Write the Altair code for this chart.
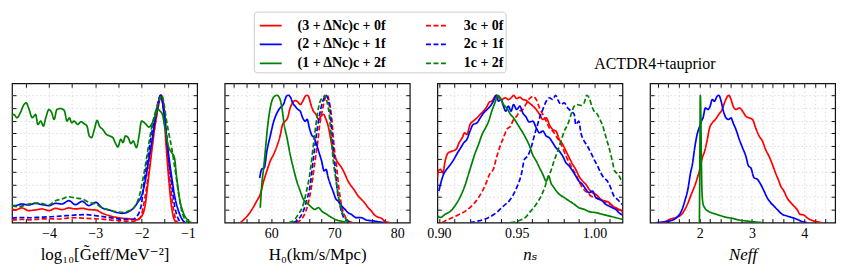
import json
import altair as alt
import pandas as pd

# ---------------- series definitions ----------------
NAMES = ["(3 + ΔNc)c + 0f", "3c + 0f",
         "(2 + ΔNc)c + 1f", "2c + 1f",
         "(1 + ΔNc)c + 2f", "1c + 2f"]
COLORS = ["#ff0000", "#ff0000", "#0000ff", "#0000ff", "#008000", "#008000"]
DASHES = [[1, 0], [5, 2.5], [1, 0], [5, 2.5], [1, 0], [5, 2.5]]
# legend is filled column by column: solid lines first, dashed second
LEGEND_ORDER = [0, 2, 4, 1, 3, 5]

# ---------------- panel 1: log10 Geff ----------------
geff_red_solid = [(-4.80,0.107),(-4.73,0.099),(-4.59,0.115),(-4.44,0.094),(-4.30,0.099),(-4.15,0.107),(-4.00,0.094),(-3.86,0.112),(-3.72,0.102),(-3.57,0.115),(-3.43,0.107),(-3.28,0.112),(-3.135,0.102),(-2.99,0.099),(-2.845,0.073),(-2.70,0.055),(-2.55,0.042),(-2.41,0.034),(-2.26,0.029),(-2.12,0.021),(-2.02,0.04),(-1.93,0.12),(-1.856,0.33),(-1.78,0.56),(-1.71,0.76),(-1.64,0.91),(-1.58,1.0),(-1.52,0.86),(-1.46,0.56),(-1.41,0.33),(-1.35,0.12),(-1.30,0.03),(-1.24,0.0)]
geff_red_dash = [(-4.8,0.02),(-4.6,0.025),(-4.4,0.022),(-4.2,0.028),(-4.0,0.03),(-3.8,0.028),(-3.6,0.035),(-3.4,0.038),(-3.2,0.033),(-3.0,0.03),(-2.8,0.025),(-2.6,0.018),(-2.4,0.012),(-2.2,0.01),(-2.08,0.02),(-2.0,0.06),(-1.965,0.12),(-1.89,0.28),(-1.82,0.48),(-1.75,0.67),(-1.675,0.84),(-1.62,0.95),(-1.57,1.0),(-1.52,0.92),(-1.46,0.64),(-1.40,0.38),(-1.33,0.15),(-1.28,0.05),(-1.22,0.0)]
geff_blue_solid = [(-4.80,0.135),(-4.73,0.133),(-4.59,0.146),(-4.44,0.138),(-4.30,0.151),(-4.15,0.141),(-4.00,0.133),(-3.86,0.151),(-3.72,0.146),(-3.57,0.172),(-3.43,0.141),(-3.28,0.167),(-3.14,0.133),(-2.99,0.159),(-2.85,0.115),(-2.70,0.099),(-2.55,0.081),(-2.41,0.073),(-2.26,0.089),(-2.16,0.12),(-2.08,0.16),(-2.0,0.21),(-1.93,0.31),(-1.856,0.47),(-1.78,0.63),(-1.71,0.80),(-1.65,0.91),(-1.59,1.0),(-1.54,0.93),(-1.495,0.80),(-1.42,0.55),(-1.35,0.36),(-1.28,0.20),(-1.20,0.09),(-1.13,0.03),(-1.065,0.0)]
geff_blue_dash = [(-4.8,0.035),(-4.6,0.04),(-4.4,0.038),(-4.2,0.042),(-4.0,0.045),(-3.8,0.05),(-3.6,0.055),(-3.4,0.06),(-3.2,0.062),(-3.0,0.055),(-2.8,0.045),(-2.6,0.035),(-2.4,0.025),(-2.2,0.025),(-2.08,0.06),(-2.0,0.15),(-1.94,0.33),(-1.87,0.5),(-1.80,0.66),(-1.73,0.80),(-1.66,0.92),(-1.59,1.0),(-1.54,0.94),(-1.495,0.82),(-1.42,0.52),(-1.35,0.30),(-1.28,0.12),(-1.22,0.04),(-1.15,0.0)]
geff_green_solid = [(-4.81,0.836),(-4.76,0.849),(-4.69,0.823),(-4.62,0.862),(-4.54,0.927),(-4.49,0.94),(-4.44,0.90),(-4.36,0.823),(-4.29,0.849),(-4.24,0.77),(-4.18,0.797),(-4.12,0.758),(-4.07,0.823),(-4.0,0.888),(-3.94,0.862),(-3.89,0.81),(-3.83,0.888),(-3.75,0.896),(-3.67,0.88),(-3.61,0.797),(-3.56,0.823),(-3.51,0.784),(-3.455,0.797),(-3.38,0.77),(-3.31,0.792),(-3.24,0.776),(-3.18,0.758),(-3.13,0.68),(-3.08,0.667),(-3.02,0.732),(-2.96,0.802),(-2.91,0.758),(-2.84,0.732),(-2.76,0.693),(-2.69,0.68),(-2.62,0.667),(-2.57,0.628),(-2.51,0.594),(-2.45,0.654),(-2.40,0.628),(-2.35,0.68),(-2.29,0.667),(-2.23,0.62),(-2.18,0.641),(-2.11,0.589),(-2.06,0.667),(-2.0,0.797),(-1.915,0.776),(-1.84,0.75),(-1.785,0.77),(-1.71,0.836),(-1.65,0.89),(-1.60,0.875),(-1.55,0.85),(-1.495,0.745),(-1.42,0.60),(-1.35,0.55),(-1.29,0.51),(-1.24,0.35),(-1.17,0.17),(-1.10,0.08),(-0.99,0.015),(-0.92,0.0)]
geff_green_dash = [(-4.8,0.133),(-4.66,0.125),(-4.44,0.146),(-4.22,0.154),(-4.0,0.138),(-3.86,0.172),(-3.72,0.185),(-3.57,0.203),(-3.43,0.193),(-3.28,0.185),(-3.135,0.159),(-2.99,0.146),(-2.845,0.115),(-2.70,0.099),(-2.55,0.086),(-2.41,0.081),(-2.26,0.094),(-2.155,0.12),(-2.04,0.22),(-1.965,0.35),(-1.89,0.51),(-1.82,0.67),(-1.75,0.80),(-1.675,0.90),(-1.60,0.98),(-1.565,1.0),(-1.51,0.92),(-1.46,0.80),(-1.40,0.68),(-1.35,0.59),(-1.29,0.45),(-1.24,0.33),(-1.18,0.18),(-1.115,0.07),(-1.05,0.02),(-0.99,0.0)]

# ---------------- panel 2: H0 ----------------
h0_red_solid = [(55.1,0.0),(55.4,0.013),(56.2,0.052),(56.95,0.104),(57.7,0.17),(58.26,0.222),(58.8,0.326),(59.3,0.405),(59.84,0.483),(60.37,0.535),(60.9,0.60),(61.4,0.68),(61.8,0.77),(62.2,0.796),(62.6,0.822),(63.0,0.90),(63.4,0.94),(63.8,0.958),(64.2,0.948),(64.6,0.927),(65.0,0.953),(65.4,0.992),(65.7,1.0),(66.0,0.98),(66.3,0.927),(66.7,0.875),(67.1,0.85),(67.5,0.81),(67.9,0.835),(68.3,0.85),(68.6,0.822),(69.05,0.757),(69.4,0.666),(69.8,0.56),(70.3,0.496),(70.6,0.47),(71.2,0.43),(71.7,0.38),(72.2,0.326),(72.7,0.287),(73.3,0.248),(73.8,0.209),(74.3,0.183),(74.8,0.157),(75.4,0.117),(75.9,0.091),(76.4,0.06),(76.9,0.044),(77.5,0.034),(78.0,0.013),(78.8,0.0)]
h0_red_dash = [(64.0,0.0),(64.6,0.018),(65.4,0.078),(65.9,0.157),(66.4,0.287),(66.95,0.483),(67.4,0.64),(67.7,0.77),(68.2,0.90),(68.5,0.966),(68.9,1.0),(69.2,0.953),(69.6,0.822),(69.9,0.64),(70.4,0.43),(70.8,0.248),(71.2,0.13),(71.7,0.052),(72.4,0.008),(73.0,0.0)]
h0_blue_solid = [(58.16,0.35),(58.5,0.42),(58.9,0.43),(59.3,0.56),(59.84,0.68),(60.37,0.79),(60.9,0.86),(61.4,0.90),(61.95,0.93),(62.4,0.99),(62.7,1.0),(63.1,0.98),(63.4,0.94),(63.8,0.914),(64.2,0.89),(64.6,0.875),(65.0,0.822),(65.4,0.796),(65.7,0.81),(66.05,0.744),(66.4,0.69),(66.8,0.666),(67.2,0.614),(67.6,0.548),(68.0,0.483),(68.4,0.405),(68.7,0.418),(69.05,0.352),(69.4,0.30),(69.8,0.248),(70.3,0.183),(70.6,0.17),(71.2,0.13),(71.7,0.104),(72.2,0.078),(72.7,0.065),(73.5,0.039),(74.3,0.039),(75.1,0.02),(76.2,0.013),(77.2,0.005),(78.0,0.0)]
h0_blue_dash = [(63.5,0.0),(64.3,0.026),(65.1,0.091),(65.6,0.17),(66.2,0.30),(66.7,0.51),(67.1,0.666),(67.5,0.796),(67.9,0.90),(68.4,0.98),(68.7,1.0),(69.05,0.966),(69.4,0.85),(69.7,0.666),(70.1,0.457),(70.5,0.248),(71.0,0.117),(71.5,0.039),(72.2,0.008),(72.8,0.0)]
h0_green_solid = [(58.26,0.117),(58.5,0.30),(58.8,0.43),(59.05,0.56),(59.4,0.744),(59.84,0.90),(60.37,0.984),(60.9,1.0),(61.3,0.98),(61.7,0.90),(62.05,0.77),(62.5,0.666),(63.0,0.535),(63.5,0.43),(64.05,0.326),(64.6,0.248),(65.1,0.183),(65.6,0.157),(66.2,0.13),(66.9,0.104),(67.5,0.117),(68.0,0.091),(68.8,0.065),(69.6,0.039),(70.4,0.02),(71.4,0.008),(72.2,0.0)]
h0_green_dash = [(62.8,0.0),(63.5,0.013),(64.3,0.065),(65.1,0.144),(65.6,0.248),(66.2,0.405),(66.7,0.614),(67.1,0.77),(67.5,0.90),(67.9,0.966),(68.3,0.984),(68.5,1.0),(68.9,0.94),(69.2,0.85),(69.5,0.69),(69.8,0.51),(70.3,0.326),(70.7,0.196),(71.2,0.091),(71.7,0.039),(72.2,0.008),(72.6,0.0)]

# ---------------- panel 3: n_s ----------------
ns_red_solid = [(0.899,0.35),(0.8996,0.405),(0.901,0.418),(0.9026,0.39),(0.904,0.483),(0.906,0.548),(0.9085,0.561),(0.911,0.574),(0.913,0.627),(0.915,0.666),(0.9166,0.705),(0.918,0.69),(0.920,0.77),(0.922,0.796),(0.9245,0.822),(0.9266,0.85),(0.9287,0.875),(0.931,0.914),(0.9326,0.948),(0.934,0.953),(0.9357,0.984),(0.937,1.0),(0.9387,0.98),(0.9404,0.966),(0.9426,0.98),(0.9447,0.966),(0.9468,0.984),(0.948,1.0),(0.95,0.974),(0.952,0.984),(0.954,0.966),(0.956,0.96),(0.958,0.94),(0.9604,0.915),(0.9626,0.888),(0.9647,0.85),(0.9668,0.81),(0.969,0.822),(0.971,0.77),(0.9732,0.73),(0.9753,0.718),(0.9774,0.653),(0.9796,0.614),(0.9817,0.561),(0.9838,0.509),(0.986,0.457),(0.988,0.418),(0.990,0.366),(0.9923,0.326),(0.9945,0.30),(0.9966,0.261),(0.9987,0.235),(1.0009,0.222),(1.003,0.196),(1.005,0.175),(1.0072,0.17),(1.0094,0.157),(1.0115,0.13),(1.0136,0.117),(1.0157,0.104),(1.018,0.09)]
ns_red_dash = [(0.902,0.0),(0.904,0.013),(0.911,0.052),(0.917,0.09),(0.921,0.13),(0.9255,0.196),(0.93,0.30),(0.933,0.39),(0.935,0.418),(0.937,0.509),(0.939,0.587),(0.9415,0.666),(0.9436,0.73),(0.946,0.757),(0.948,0.81),(0.95,0.835),(0.952,0.875),(0.954,0.888),(0.956,0.93),(0.958,0.97),(0.9604,0.99),(0.9626,0.966),(0.9647,0.90),(0.9668,0.85),(0.969,0.796),(0.971,0.744),(0.9732,0.718),(0.9753,0.68),(0.9774,0.64),(0.9796,0.587),(0.9817,0.522),(0.9838,0.47),(0.986,0.418),(0.988,0.379),(0.990,0.326),(0.9923,0.274),(0.994,0.248),(0.9955,0.235),(0.9977,0.209),(1.0009,0.196),(1.004,0.183),(1.0072,0.157),(1.0104,0.144),(1.0136,0.117),(1.0168,0.091),(1.018,0.085)]
ns_blue_solid = [(0.90,0.248),(0.901,0.30),(0.903,0.379),(0.905,0.418),(0.9075,0.457),(0.9096,0.496),(0.912,0.548),(0.914,0.587),(0.916,0.627),(0.918,0.653),(0.920,0.718),(0.922,0.77),(0.9245,0.783),(0.9266,0.822),(0.9287,0.86),(0.931,0.888),(0.933,0.914),(0.935,0.953),(0.937,1.0),(0.9383,0.953),(0.94,0.966),(0.9415,0.914),(0.943,0.875),(0.9447,0.914),(0.9464,0.875),(0.948,0.927),(0.95,0.888),(0.952,0.914),(0.954,0.86),(0.956,0.83),(0.958,0.79),(0.9604,0.796),(0.9626,0.744),(0.9647,0.705),(0.9668,0.718),(0.969,0.68),(0.971,0.666),(0.9732,0.627),(0.9753,0.587),(0.9774,0.561),(0.9796,0.522),(0.9817,0.47),(0.9838,0.444),(0.986,0.405),(0.988,0.366),(0.990,0.326),(0.9923,0.30),(0.9945,0.261),(0.9966,0.235),(0.9987,0.248),(1.0009,0.196),(1.003,0.183),(1.005,0.17),(1.0072,0.144),(1.0094,0.13),(1.0115,0.117),(1.0136,0.104),(1.0157,0.078),(1.018,0.06)]
ns_blue_dash = [(0.92,0.0),(0.9255,0.013),(0.932,0.04),(0.937,0.078),(0.9415,0.13),(0.946,0.183),(0.95,0.274),(0.953,0.379),(0.955,0.496),(0.957,0.522),(0.9596,0.60),(0.9615,0.69),(0.9635,0.77),(0.9647,0.822),(0.9668,0.888),(0.969,0.953),(0.971,0.98),(0.9732,0.966),(0.975,1.0),(0.9764,0.966),(0.9785,0.927),(0.9806,0.94),(0.9828,0.90),(0.985,0.875),(0.987,0.85),(0.988,0.77),(0.990,0.796),(0.9913,0.705),(0.9934,0.64),(0.9955,0.60),(0.9977,0.548),(0.9998,0.496),(1.002,0.444),(1.004,0.392),(1.006,0.352),(1.0083,0.326),(1.0104,0.274),(1.0125,0.209),(1.0147,0.183),(1.0168,0.157),(1.018,0.14)]
ns_green_solid = [(0.899,0.052),(0.901,0.04),(0.904,0.065),(0.9075,0.09),(0.911,0.144),(0.914,0.209),(0.917,0.30),(0.919,0.379),(0.921,0.457),(0.923,0.535),(0.9255,0.614),(0.9277,0.69),(0.93,0.744),(0.932,0.796),(0.934,0.875),(0.936,0.94),(0.938,1.0),(0.9394,0.98),(0.9415,0.927),(0.9436,0.90),(0.946,0.85),(0.948,0.822),(0.95,0.783),(0.952,0.744),(0.954,0.705),(0.956,0.66),(0.958,0.61),(0.9604,0.53),(0.9626,0.483),(0.9647,0.43),(0.9668,0.379),(0.969,0.326),(0.9706,0.366),(0.972,0.313),(0.974,0.274),(0.9774,0.222),(0.9806,0.196),(0.9838,0.17),(0.987,0.144),(0.990,0.117),(0.9934,0.104),(0.9966,0.086),(1.0009,0.078),(1.005,0.065),(1.0094,0.052),(1.0136,0.039),(1.018,0.026)]
ns_green_dash = [(0.946,0.0),(0.951,0.013),(0.956,0.045),(0.959,0.09),(0.9626,0.144),(0.9657,0.209),(0.968,0.274),(0.970,0.352),(0.972,0.405),(0.974,0.483),(0.9764,0.561),(0.9785,0.64),(0.9806,0.718),(0.9828,0.77),(0.985,0.85),(0.987,0.914),(0.989,0.927),(0.9913,0.92),(0.9934,0.94),(0.995,1.0),(0.9966,0.98),(0.9983,0.914),(0.9998,0.875),(1.0013,0.86),(1.003,0.822),(1.005,0.77),(1.0072,0.68),(1.0094,0.587),(1.0115,0.483),(1.013,0.405),(1.0153,0.379),(1.0174,0.326),(1.018,0.31)]

# ---------------- panel 4: N_eff ----------------
neff_red_solid = [(1.24,0.0),(1.37,0.013),(1.43,0.026),(1.62,0.052),(1.75,0.13),(1.84,0.222),(1.937,0.326),(2.0,0.418),(2.05,0.509),(2.095,0.561),(2.14,0.64),(2.19,0.744),(2.24,0.783),(2.30,0.81),(2.366,0.85),(2.43,0.888),(2.473,0.94),(2.517,0.98),(2.555,1.0),(2.60,0.966),(2.64,0.914),(2.694,0.888),(2.757,0.90),(2.82,0.875),(2.883,0.835),(2.946,0.822),(3.01,0.81),(3.07,0.744),(3.136,0.68),(3.20,0.64),(3.26,0.574),(3.325,0.522),(3.39,0.457),(3.45,0.39),(3.514,0.326),(3.546,0.29),(3.61,0.248),(3.67,0.196),(3.77,0.144),(3.86,0.104),(3.92,0.065),(3.99,0.06),(4.05,0.039),(4.145,0.018),(4.24,0.008),(4.33,0.0)]
neff_blue_solid = [(1.18,0.0),(1.37,0.008),(1.43,0.013),(1.56,0.04),(1.65,0.09),(1.716,0.17),(1.78,0.274),(1.82,0.379),(1.86,0.457),(1.905,0.587),(1.95,0.69),(2.0,0.757),(2.03,0.796),(2.063,0.822),(2.11,0.90),(2.158,0.888),(2.20,0.914),(2.24,0.966),(2.284,0.953),(2.33,0.99),(2.366,1.0),(2.41,0.953),(2.454,0.875),(2.505,0.822),(2.555,0.81),(2.60,0.822),(2.64,0.783),(2.694,0.73),(2.757,0.653),(2.82,0.587),(2.883,0.522),(2.934,0.444),(2.978,0.43),(3.04,0.352),(3.104,0.34),(3.167,0.30),(3.23,0.248),(3.29,0.196),(3.356,0.157),(3.42,0.13),(3.48,0.104),(3.58,0.065),(3.67,0.052),(3.77,0.039),(3.86,0.026),(3.96,0.008),(4.05,0.0)]
neff_green_solid = [(1.995,0.0),(2.004,0.55),(2.012,1.0),(2.022,0.85),(2.032,0.5),(2.044,0.24),(2.063,0.15),(2.095,0.117),(2.158,0.091),(2.22,0.078),(2.284,0.07),(2.38,0.057),(2.505,0.042),(2.63,0.033),(2.757,0.02),(2.883,0.013),(3.01,0.007),(3.2,0.0)]

# ---------------- axes ----------------
Y_TICKS = [0.1, 0.2, 0.3, 0.4, 0.5, 0.6, 0.7, 0.8, 0.9, 1.0]
Y_DOMAIN = [0, 1.094]

PANELS = [
    dict(series=[geff_red_solid, geff_red_dash, geff_blue_solid, geff_blue_dash, geff_green_solid, geff_green_dash],
         domain=[-4.8, -0.8], major=[-4, -3, -2, -1],
         minor=[-4.5, -4.0, -3.5, -3.0, -2.5, -2.0, -1.5, -1.0],
         fmt=".0f", title="log₁₀[G̃eff/MeV⁻²]", italic=False),
    dict(series=[h0_red_solid, h0_red_dash, h0_blue_solid, h0_blue_dash, h0_green_solid, h0_green_dash],
         domain=[52.6, 82.0], major=[60, 70, 80],
         minor=[54, 56, 58, 60, 62, 64, 66, 68, 70, 72, 74, 76, 78, 80],
         fmt=".0f", title="H₀(km/s/Mpc)", italic=False),
    dict(series=[ns_red_solid, ns_red_dash, ns_blue_solid, ns_blue_dash, ns_green_solid, ns_green_dash],
         domain=[0.899, 1.018], major=[0.9, 0.95, 1.0],
         minor=[0.9, 0.91, 0.92, 0.93, 0.94, 0.95, 0.96, 0.97, 0.98, 0.99, 1.0, 1.01],
         fmt=".2f", title="nₛ", italic=True),
    dict(series=[neff_red_solid, None, neff_blue_solid, None, neff_green_solid, None],
         domain=[1.05, 4.59], major=[2, 3, 4],
         minor=[1.2, 1.4, 1.6, 1.8, 2.0, 2.2, 2.4, 2.6, 2.8, 3.0, 3.2, 3.4, 3.6, 3.8, 4.0, 4.2, 4.4],
         fmt=".0f", title="Neff", italic=True),
]

W, H = 186, 140
SERIF = "'Liberation Serif', 'Times New Roman', 'DejaVu Serif', serif"

LEG_DOMAIN = [NAMES[i] for i in LEGEND_ORDER]
LEG_COLORS = [COLORS[i] for i in LEGEND_ORDER]
LEG_DASHES = [DASHES[i] for i in LEGEND_ORDER]

LEGEND = alt.Legend(
    title=None, orient="none", legendX=243, legendY=-72, columns=2,
    symbolType="stroke", symbolSize=484, symbolStrokeWidth=1.7, symbolOffset=3,
    labelFont=SERIF, labelFontSize=14, labelFontWeight="bold", labelColor="black",
    labelOffset=15, labelLimit=300, padding=2, rowPadding=-2.5, columnPadding=35,
    strokeColor="#cccccc", fillColor="white", cornerRadius=3,
)


def build_df(series):
    rows = []
    for name, pts in zip(NAMES, series):
        if pts is None:
            continue
        for x, y in pts:
            rows.append({"series": name, "x": x, "y": y})
    return pd.DataFrame(rows)


def make_panel(cfg, title=None):
    df = build_df(cfg["series"])
    xs = alt.Scale(domain=cfg["domain"], nice=False, zero=False)
    ys = alt.Scale(domain=Y_DOMAIN, nice=False, zero=False)
    lab = "indexof(%s, datum.value) >= 0 ? datum.label : ''" % json.dumps(cfg["major"])

    lines = alt.Chart(df).mark_line(clip=True, strokeWidth=1.7, interpolate="monotone").encode(
        x=alt.X("x:Q", scale=xs, axis=alt.Axis(
            orient="bottom", values=cfg["minor"], labelExpr=lab, format=cfg["fmt"],
            title=cfg["title"], titleFontStyle="italic" if cfg["italic"] else "normal",
            ticks=False, tickSize=0, domain=False, grid=True, labelOverlap=False,
            labelFlush=False, labelPadding=4, titlePadding=6, minExtent=0)),
        y=alt.Y("y:Q", scale=ys, axis=alt.Axis(
            orient="left", values=Y_TICKS, labels=False, ticks=False, tickSize=0,
            domain=False, grid=True, title=None, minExtent=0, maxExtent=0)),
        color=alt.Color("series:N", scale=alt.Scale(domain=LEG_DOMAIN, range=LEG_COLORS), legend=LEGEND),
        strokeDash=alt.StrokeDash("series:N", scale=alt.Scale(domain=LEG_DOMAIN, range=LEG_DASHES), legend=LEGEND),
    )

    def tick_layer(xo, yo):
        return alt.Chart(df).mark_point(opacity=0, size=1).encode(
            x=alt.X("x:Q", scale=xs, axis=alt.Axis(
                orient=xo, offset=-H, values=cfg["minor"], labels=False, domain=False,
                grid=False, ticks=True, tickSize=4, title=None, minExtent=0, maxExtent=4)),
            y=alt.Y("y:Q", scale=ys, axis=alt.Axis(
                orient=yo, offset=-W, values=Y_TICKS, labels=False, domain=False,
                grid=False, ticks=True, tickSize=4, title=None, minExtent=0, maxExtent=4)),
        )

    ch = alt.layer(lines, tick_layer("top", "right"), tick_layer("bottom", "left")).resolve_axis(
        x="independent", y="independent")
    props = dict(width=W, height=H)
    if title is not None:
        props["title"] = title
    return ch.properties(**props)


panel_title = alt.TitleParams(
    "ACTDR4+tauprior", anchor="start", frame="group", dx=-56, offset=11,
    font=SERIF, fontSize=16, fontWeight="normal", color="black")

charts = [make_panel(PANELS[0]), make_panel(PANELS[1]), make_panel(PANELS[2]),
          make_panel(PANELS[3], title=panel_title)]

chart = alt.hconcat(*charts, spacing=27.7, bounds="flush").properties(
    padding={"left": 2, "top": 2, "right": 2, "bottom": 2}
).configure_view(
    stroke="#111111", strokeWidth=1.2
).configure_axis(
    labelFont=SERIF, labelFontSize=14, labelColor="black",
    titleFont=SERIF, titleFontSize=17, titleFontWeight="normal", titleColor="black",
    tickColor="#111111", tickWidth=1,
    gridColor="#d4d4d4", gridDash=[1.5, 2.5], gridWidth=0.8,
)

chart.save("out.html", embed_options={"renderer": "svg", "actions": False})
